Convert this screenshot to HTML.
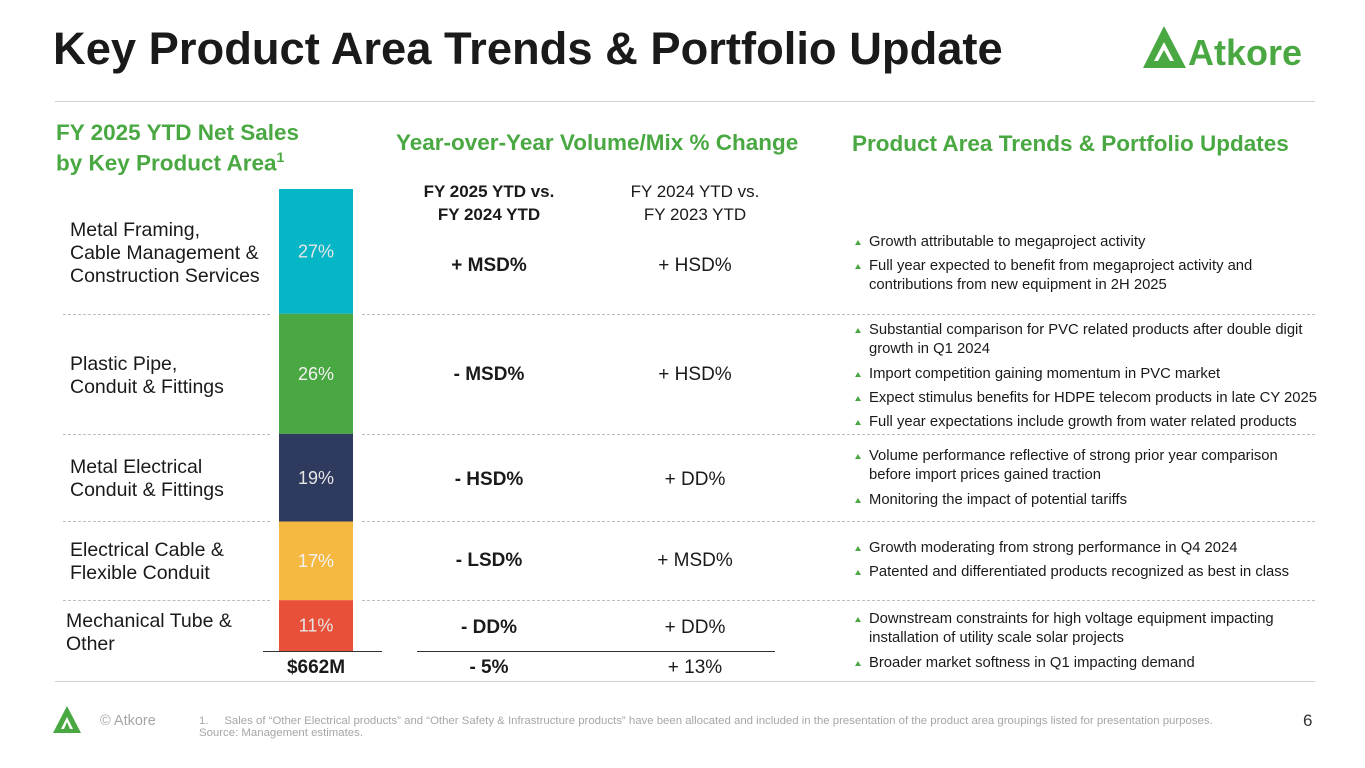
<!DOCTYPE html>
<html><head><meta charset="utf-8">
<style>
body{margin:0;background:#fff;font-family:"Liberation Sans",Arial,sans-serif;}
#page{position:relative;width:1365px;height:768px;overflow:hidden;background:#fff;}
.a{position:absolute;white-space:nowrap;}
.lbl{font-size:19.5px;color:#1a1a1a;line-height:23px;}
.val{font-size:19px;color:#1a1a1a;width:220px;text-align:center;line-height:22px;}
.b{font-weight:bold;}
.bul{position:absolute;font-size:14.8px;color:#1a1a1a;line-height:19px;left:869px;white-space:nowrap;}
.bul:before{content:"";position:absolute;left:-14px;top:7px;border-left:3px solid transparent;border-right:3px solid transparent;border-bottom:5px solid #4aa843;}
.dot{position:absolute;height:0;border-top:1px dashed #bdbdbd;}
.hd{font-size:22.5px;font-weight:bold;color:#4aa843;line-height:24px;}
</style></head><body>
<div id="page">
<div class="a" style="left:53px;top:23px;font-size:45.3px;font-weight:bold;color:#1a1a1a;">Key Product Area Trends &amp; Portfolio Update</div>
<svg class="a" style="left:1142px;top:25px" width="190" height="46"><polygon points="22,1 44,43 1,43" fill="#4aa843"/><polygon points="22,17 32,36 12,36" fill="#fff"/><polygon points="22,25 28,36 16,36" fill="#4aa843"/><text x="46" y="40" font-family="Liberation Sans" font-weight="bold" font-size="36" fill="#4aa843">Atkore</text></svg>
<div class="a" style="left:55px;top:101px;width:1260px;height:1px;background:#cfcfcf"></div>

<div class="a hd" style="left:56px;top:121px">FY 2025 YTD Net Sales<br>by Key Product Area<sup style="font-size:14px">1</sup></div>
<div class="a hd" style="left:396px;top:131px">Year-over-Year Volume/Mix % Change</div>
<div class="a hd" style="left:852px;top:132px">Product Area Trends &amp; Portfolio Updates</div>

<div class="a val b" style="left:379px;top:180px;line-height:23px;font-size:17px">FY 2025 YTD vs.<br>FY 2024 YTD</div>
<div class="a val" style="left:585px;top:180px;line-height:23px;font-size:17px">FY 2024 YTD vs.<br>FY 2023 YTD</div>

<svg id="bar" class="a" style="left:0;top:0" width="400" height="700"></svg>

<div class="a lbl" style="left:70px;top:219px">Metal Framing,<br>Cable Management &amp;<br>Construction Services</div>
<div class="a lbl" style="left:70px;top:353px">Plastic Pipe,<br>Conduit &amp; Fittings</div>
<div class="a lbl" style="left:70px;top:456px">Metal Electrical<br>Conduit &amp; Fittings</div>
<div class="a lbl" style="left:70px;top:539px">Electrical Cable &amp;<br>Flexible Conduit</div>
<div class="a lbl" style="left:66px;top:610px">Mechanical Tube &amp;<br>Other</div>

<div class="a val b" style="left:379px;top:255px">+ MSD%</div>
<div class="a val" style="left:585px;top:255px">+ HSD%</div>
<div class="a val b" style="left:379px;top:364px">- MSD%</div>
<div class="a val" style="left:585px;top:364px">+ HSD%</div>
<div class="a val b" style="left:379px;top:469px">- HSD%</div>
<div class="a val" style="left:585px;top:469px">+ DD%</div>
<div class="a val b" style="left:379px;top:550px">- LSD%</div>
<div class="a val" style="left:585px;top:550px">+ MSD%</div>
<div class="a val b" style="left:379px;top:617px">- DD%</div>
<div class="a val" style="left:585px;top:617px">+ DD%</div>

<div class="a" style="left:263px;top:651px;width:119px;height:1px;background:#333"></div>
<div class="a" style="left:417px;top:651px;width:358px;height:1px;background:#333"></div>
<div class="a val b" style="left:206px;top:657px">$662M</div>
<div class="a val b" style="left:379px;top:657px">- 5%</div>
<div class="a val" style="left:585px;top:657px">+ 13%</div>

<div class="dot" style="left:63px;top:314px;width:207px"></div>
<div class="dot" style="left:362px;top:314px;width:953px"></div>
<div class="dot" style="left:63px;top:434px;width:207px"></div>
<div class="dot" style="left:362px;top:434px;width:953px"></div>
<div class="dot" style="left:63px;top:521px;width:207px"></div>
<div class="dot" style="left:362px;top:521px;width:953px"></div>
<div class="dot" style="left:63px;top:600px;width:207px"></div>
<div class="dot" style="left:362px;top:600px;width:953px"></div>

<div class="bul" style="top:233px">Growth attributable to megaproject activity</div>
<div class="bul" style="top:257px">Full year expected to benefit from megaproject activity and<br>contributions from new equipment in 2H 2025</div>
<div class="bul" style="top:321px">Substantial comparison for PVC related products after double digit<br>growth in Q1 2024</div>
<div class="bul" style="top:365px">Import competition gaining momentum in PVC market</div>
<div class="bul" style="top:389px">Expect stimulus benefits for HDPE telecom products in late CY 2025</div>
<div class="bul" style="top:413px">Full year expectations include growth from water related products</div>
<div class="bul" style="top:447px">Volume performance reflective of strong prior year comparison<br>before import prices gained traction</div>
<div class="bul" style="top:491px">Monitoring the impact of potential tariffs</div>
<div class="bul" style="top:539px">Growth moderating from strong performance in Q4 2024</div>
<div class="bul" style="top:563px">Patented and differentiated products recognized as best in class</div>
<div class="bul" style="top:610px">Downstream constraints for high voltage equipment impacting<br>installation of utility scale solar projects</div>
<div class="bul" style="top:654px">Broader market softness in Q1 impacting demand</div>

<div class="a" style="left:55px;top:681px;width:1260px;height:1px;background:#cfcfcf"></div>
<svg class="a" style="left:52px;top:705px" width="36" height="30"><polygon points="15,1 29,28 1,28" fill="#4aa843"/><polygon points="15,12 21,24 9,24" fill="#fff"/><polygon points="15,17 18,24 12,24" fill="#4aa843"/></svg>
<div class="a" style="left:100px;top:713px;font-size:14.5px;color:#a6a6a6">© Atkore</div>
<div class="a" style="left:199px;top:715px;font-size:11.4px;color:#a6a6a6;line-height:12px">1.&nbsp;&nbsp;&nbsp;&nbsp;&nbsp;Sales of “Other Electrical products” and “Other Safety &amp; Infrastructure products” have been allocated and included in the presentation of the product area groupings listed for presentation purposes.<br>Source: Management estimates.</div>
<div class="a" style="left:1303px;top:711px;font-size:17px;color:#333">6</div>
</div>
<script>
const categories = ["Metal Framing","Plastic Pipe","Metal Electrical","Electrical Cable","Mechanical Tube"];
const shares = [27, 26, 19, 17, 11];
const colors = ["#04b6c6","#4aa843","#2e3a5e","#f5b942","#e9503a"];
const svg = document.getElementById('bar');
const top0 = 189, bottom0 = 651, x0 = 279, w = 74;
const total = shares.reduce((a,b)=>a+b,0);
const yScale = v => v / total * (bottom0 - top0);
let y = top0;
shares.forEach((v,i)=>{
  const h = yScale(v);
  const r = document.createElementNS('http://www.w3.org/2000/svg','rect');
  r.setAttribute('x', x0); r.setAttribute('y', y); r.setAttribute('width', w); r.setAttribute('height', h);
  r.setAttribute('fill', colors[i]);
  
  
  svg.appendChild(r);
  const t = document.createElementNS('http://www.w3.org/2000/svg','text');
  t.setAttribute('x', x0 + w/2); t.setAttribute('y', y + h/2 + 6);
  t.setAttribute('text-anchor','middle'); t.setAttribute('fill', i===1||i===3 ? '#f2f2f2' : '#e6e6e6');
  t.setAttribute('font-family','Liberation Sans'); t.setAttribute('font-size','18');
  t.textContent = v + '%';
  
  
  svg.appendChild(t);
  y += h;
});
</script>
</body></html>
